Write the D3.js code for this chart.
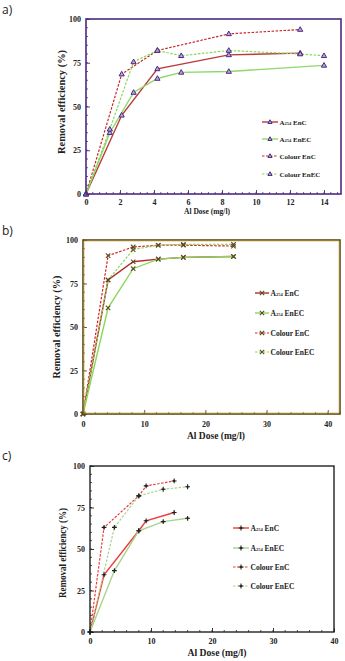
<!DOCTYPE html>
<html><head><meta charset="utf-8">
<script src="https://cdn.jsdelivr.net/npm/d3@7"></script>
<style>body{margin:0;background:#fff}svg{display:block}</style>
</head><body>
<svg id="c" width="345" height="661"></svg>
<script>
const seriesNames = ["A254 EnC","A254 EnEC","Colour EnC","Colour EnEC"];
const yTicks = [0,25,50,75,100];
// Panel a
const aX_A_EnC = [0,2.1,4.2,8.4,12.6];
const aY_A_EnC = [0,45,71.5,79.5,80.5];
const aX_A_EnEC = [0,1.4,2.8,4.2,5.6,8.4,14];
const aY_A_EnEC = [0,35,58,66,69.5,70,73.5];
const aX_C_EnC = [0,2.1,4.2,8.4,12.6];
const aY_C_EnC = [0,68.5,82,91.5,94];
const aX_C_EnEC = [0,1.4,2.8,4.2,5.6,8.4,12.6,14];
const aY_C_EnEC = [0,37,75.5,82,79,82,80,79];
const aXTicks = [0,2,4,6,8,10,12,14];
// Panel b
const bX = [0,4.1,8.2,12.3,16.4,24.6];
const bY_A_EnC = [0,77,87.5,89,90,90.5];
const bY_A_EnEC = [0,61,83.5,89,90,90.5];
const bY_C_EnC = [0,91,96,97,97,96.5];
const bY_C_EnEC = [0,77,94.5,97,97.5,97.5];
const bXTicks = [0,10,20,30,40];
// Panel c
const cX_A_EnC = [0,2.3,8,9.2,13.8];
const cY_A_EnC = [0,34.5,61,67,72];
const cX_A_EnEC = [0,4,8,12,16];
const cY_A_EnEC = [0,37,61,66.5,68.5];
const cX_C_EnC = [0,2.3,8,9.2,13.8];
const cY_C_EnC = [0,63,82,88,91];
const cX_C_EnEC = [0,4,8,12,16];
const cY_C_EnEC = [0,63,82,86,87.5];
const cXTicks = [0,10,20,30,40];

const svg = d3.select("#c");
const zip = (xs, ys) => xs.map((x,i)=>[x, ys[i]]);
const SERIF = "'Liberation Serif', 'Times New Roman', serif";

function panel(cfg){
  const g = svg.append("g");
  const x = d3.scaleLinear().domain(cfg.xDomain).range([cfg.left, cfg.right]);
  const y = d3.scaleLinear().domain([0,100]).range([cfg.bottom, cfg.top]);
  // panel letter
  g.append("text").attr("x", 2).attr("y", cfg.letterY).attr("font-family","'Open Sans', sans-serif")
    .attr("font-size", 12).attr("fill","#222").text(cfg.letter);
  // minor ticks
  const xm = d3.range(cfg.xDomain[0], cfg.xDomain[1] + 1e-9, cfg.xMinor);
  const ym = d3.range(0, 100.001, 5);
  g.selectAll(".xm").data(xm).enter().append("line")
    .attr("x1", d=>x(d)).attr("x2", d=>x(d)).attr("y1", cfg.bottom).attr("y2", cfg.bottom-2)
    .attr("stroke", cfg.border).attr("stroke-width", 0.8);
  g.selectAll(".ym").data(ym).enter().append("line")
    .attr("y1", d=>y(d)).attr("y2", d=>y(d)).attr("x1", cfg.left).attr("x2", cfg.left+2)
    .attr("stroke", cfg.border).attr("stroke-width", 0.8);
  // axes (labels)
  const xAxis = d3.axisBottom(x).tickValues(cfg.xTicks).tickSize(-4).tickPadding(cfg.xPad);
  const xa = g.append("g").attr("transform", `translate(0,${cfg.bottom})`).call(xAxis);
  const yAxis = d3.axisLeft(y).tickValues(yTicks).tickSize(-4).tickPadding(5);
  const ya = g.append("g").attr("transform", `translate(${cfg.left},0)`).call(yAxis);
  [xa, ya].forEach(a => {
    a.select(".domain").remove();
    a.selectAll(".tick line").attr("stroke", cfg.border).attr("stroke-width", 0.9);
    a.selectAll(".tick text").attr("font-family", SERIF).attr("font-weight","bold")
      .attr("font-size", 8).attr("fill","#222");
  });
  // axis titles
  g.append("text").attr("x", cfg.xlabX).attr("y", cfg.bottom + cfg.xlabDy)
    .attr("text-anchor","middle").attr("font-family", SERIF).attr("font-weight","bold")
    .attr("font-size", cfg.xlabFs).attr("fill","#222")
    .attr("textLength", cfg.xlabLen).attr("lengthAdjust","spacingAndGlyphs").text("Al Dose (mg/l)");
  g.append("text").attr("transform", `translate(${cfg.ylabX},${cfg.ylabY}) rotate(-90)`)
    .attr("text-anchor","middle").attr("font-family", SERIF).attr("font-weight","bold")
    .attr("font-size", 10).attr("fill","#222")
    .attr("textLength", cfg.ylabLen).attr("lengthAdjust","spacingAndGlyphs").text("Removal efficiency (%)");
  // lines
  const line = d3.line().x(d=>x(d[0])).y(d=>y(d[1]));
  cfg.series.forEach(s => {
    g.append("path").datum(s.data).attr("d", line).attr("fill","none")
      .attr("stroke", s.color).attr("stroke-width", s.dash ? 1.2 : 1.4)
      .attr("stroke-dasharray", s.dash ? "2.5,1.5" : null);
  });
  cfg.series.forEach(s => {
    s.data.forEach(d => cfg.marker(g, x(d[0]), y(d[1])));
  });
  // border
  g.append("rect").attr("x", cfg.left).attr("y", cfg.top).attr("width", cfg.right-cfg.left)
    .attr("height", cfg.bottom-cfg.top).attr("fill","none").attr("stroke", cfg.border).attr("stroke-width", cfg.borderW);
  if (cfg.inner) {
    g.append("rect").attr("x", cfg.left+1.1).attr("y", cfg.top+1.1).attr("width", cfg.right-cfg.left-2.2)
      .attr("height", cfg.bottom-cfg.top-2.2).attr("fill","none").attr("stroke", cfg.inner).attr("stroke-width", 0.6);
  }
  // legend
  cfg.series.forEach((s,i) => {
    const ly = cfg.legY[i];
    g.append("line").attr("x1", cfg.legX).attr("x2", cfg.legX + cfg.legW).attr("y1", ly).attr("y2", ly)
      .attr("stroke", s.color).attr("stroke-width", s.dash ? 1.1 : 1.4).attr("stroke-dasharray", s.dash ? "2.5,1.5" : null);
    cfg.marker(g, cfg.legX + cfg.legW/2, ly, true);
    const t = g.append("text").attr("x", cfg.legX + cfg.legW + 1.5).attr("y", ly + 2.5)
      .attr("font-family", SERIF).attr("font-weight","bold").attr("font-size", cfg.legFs).attr("fill","#222");
    if (s.name.startsWith("A254")) {
      t.append("tspan").text("A");
      t.append("tspan").attr("font-size", 4.5).text("254");
      t.append("tspan").text(" " + s.name.slice(5));
    } else t.text(s.name);
  });
}

const tri = (g, cx, cy, small) => { const r = small ? 0.8 : 1; return g.append("path")
  .attr("d", `M${cx},${cy-2.8*r}L${cx+2.6*r},${cy+1.8*r}L${cx-2.6*r},${cy+1.8*r}Z`)
  .attr("fill","#b9a6d6").attr("stroke","#4a2a82").attr("stroke-width", 1); };
const cross = (g, cx, cy) => g.append("path")
  .attr("d", `M${cx-2.2},${cy-2.2}L${cx+2.2},${cy+2.2}M${cx+2.2},${cy-2.2}L${cx-2.2},${cy+2.2}`)
  .attr("stroke","#5a4a1e").attr("stroke-width", 1.1).attr("fill","none");
const plus = (g, cx, cy) => {
  g.append("path").attr("d", `M${cx-2.4},${cy}L${cx+2.4},${cy}M${cx},${cy-2.4}L${cx},${cy+2.4}`)
    .attr("stroke","#222").attr("stroke-width", 1.1);
  g.append("circle").attr("cx", cx).attr("cy", cy).attr("r", 1.1).attr("fill","#222");
};

panel({
  letter:"a)", letterY:14, left:86, right:341, top:19, bottom:194, xDomain:[0,15], xTicks:aXTicks, xMinor:0.4,
  border:"#4b2a80", borderW:1.6, xPad:5, xlabX:207, xlabDy:20, xlabFs:9, xlabLen:46, ylabX:65, ylabY:102, ylabLen:104,
  marker: tri, legX:262, legW:16, legY:[122,139,156,174], legFs:7,
  series:[
    {name:seriesNames[0], color:"#b83a3a", dash:false, data:zip(aX_A_EnC,aY_A_EnC)},
    {name:seriesNames[1], color:"#8ed86a", dash:false, data:zip(aX_A_EnEC,aY_A_EnEC)},
    {name:seriesNames[2], color:"#c62828", dash:true, data:zip(aX_C_EnC,aY_C_EnC)},
    {name:seriesNames[3], color:"#86d85a", dash:true, data:zip(aX_C_EnEC,aY_C_EnEC)}
  ]
});
panel({
  letter:"b)", letterY:235, left:83, right:340, top:240, bottom:414, xDomain:[0,42], xTicks:bXTicks, xMinor:2,
  border:"#5c4a1a", borderW:1.6, inner:"#d9b84a", xPad:7, xlabX:216, xlabDy:25, xlabFs:10, xlabLen:58, ylabX:60, ylabY:327, ylabLen:103,
  marker: cross, legX:255, legW:14, legY:[293,313,333,352], legFs:7.5,
  series:[
    {name:seriesNames[0], color:"#b22a2a", dash:false, data:zip(bX,bY_A_EnC)},
    {name:seriesNames[1], color:"#8ad85a", dash:false, data:zip(bX,bY_A_EnEC)},
    {name:seriesNames[2], color:"#d42020", dash:true, data:zip(bX,bY_C_EnC)},
    {name:seriesNames[3], color:"#8ad85a", dash:true, data:zip(bX,bY_C_EnEC)}
  ]
});
panel({
  letter:"c)", letterY:460, left:90, right:334, top:466, bottom:632, xDomain:[0,40], xTicks:cXTicks, xMinor:2,
  border:"#222", borderW:1.4, xPad:6, xlabX:217, xlabDy:24, xlabFs:10, xlabLen:59, ylabX:66, ylabY:553, ylabLen:90,
  marker: plus, legX:233, legW:16, legY:[528,548,567,586], legFs:7.5,
  series:[
    {name:seriesNames[0], color:"#ee3b3b", dash:false, data:zip(cX_A_EnC,cY_A_EnC)},
    {name:seriesNames[1], color:"#a8d48a", dash:false, data:zip(cX_A_EnEC,cY_A_EnEC)},
    {name:seriesNames[2], color:"#ee3b3b", dash:true, data:zip(cX_C_EnC,cY_C_EnC)},
    {name:seriesNames[3], color:"#a8d48a", dash:true, data:zip(cX_C_EnEC,cY_C_EnEC)}
  ]
});
</script>
</body></html>
